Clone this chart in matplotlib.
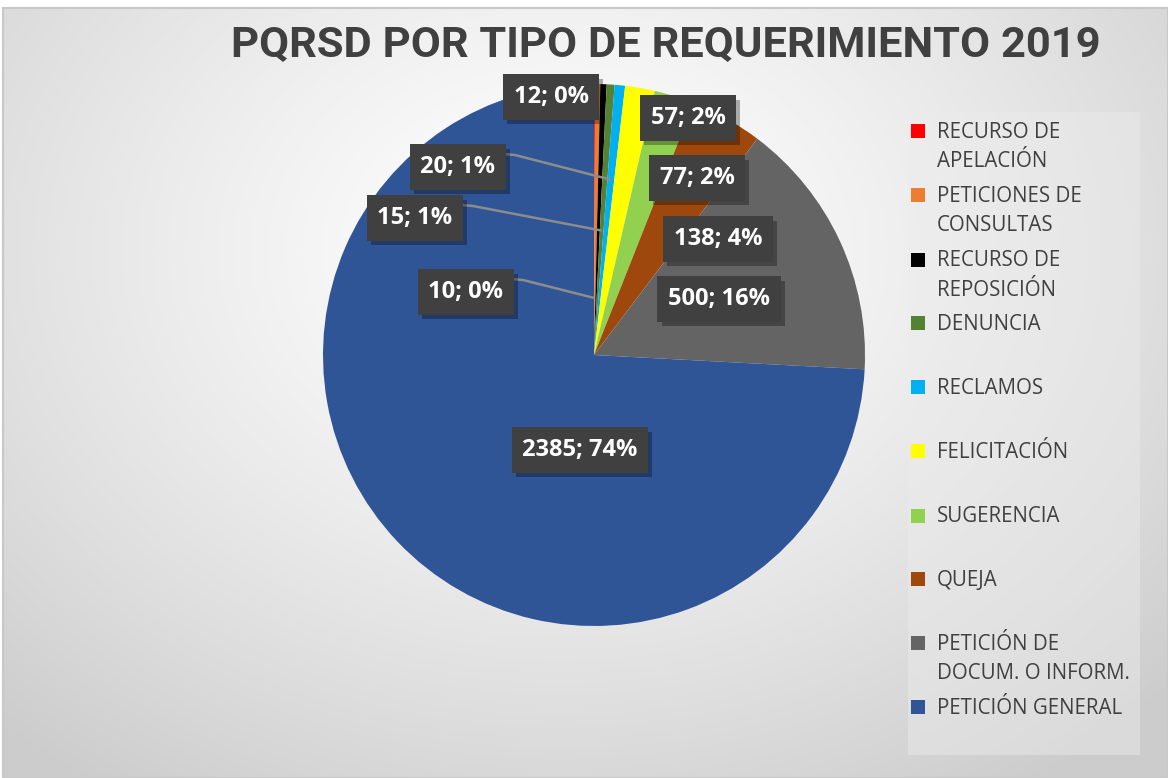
import matplotlib
matplotlib.use("Agg")
import matplotlib.pyplot as plt
import matplotlib.patheffects as pe
import numpy as np
from matplotlib.patches import Rectangle

# data (clockwise from 12 o'clock)
categorias = ["RECURSO DE\nAPELACIÓN", "PETICIONES DE\nCONSULTAS", "RECURSO DE\nREPOSICIÓN",
              "DENUNCIA", "RECLAMOS", "FELICITACIÓN", "SUGERENCIA", "QUEJA",
              "PETICIÓN DE\nDOCUM. O INFORM.", "PETICIÓN GENERAL"]
valores = [2, 10, 12, 15, 20, 57, 77, 138, 500, 2385]
etiquetas = ["", "10; 0%", "12; 0%", "15; 1%", "20; 1%", "57; 2%", "77; 2%",
             "138; 4%", "500; 16%", "2385; 74%"]
colores = ["#FF0000", "#ED7D31", "#000000", "#548235", "#00B0F0", "#FFFF00",
           "#92D050", "#9E480E", "#646464", "#2F5597"]

W, H = 1168, 778
fig = plt.figure(figsize=(W / 100, H / 100), dpi=100)

# background: soft radial gradient like the Excel chart area
bg = fig.add_axes([0, 0, 1, 1])
yy, xx = np.mgrid[0:H, 0:W]
d = np.sqrt(((xx - 560) / 900.0) ** 2 + ((yy - 250) / 700.0) ** 2)
g = np.clip(1.0 - 0.22 * d ** 1.3, 0.80, 1.0)
img = np.dstack([g, g, g])
img[:8, :, :] = 1.0
img[:, :3, :] = 1.0
bg.imshow(img, extent=[0, W, H, 0], aspect="auto", interpolation="bilinear")
bg.plot([3, W, W, 3, 3], [8, 8, H, H, 8], color="#c8c8c8", lw=1.5)
bg.set_xlim(0, W)
bg.set_ylim(H, 0)
bg.axis("off")

# legend panel
bg.add_patch(Rectangle((908, 112), 232, 643, facecolor="#ececec", edgecolor="none", alpha=0.45))

# pie
cx, cy, R = 594, 355, 271
ax = fig.add_axes([(cx - R) / W, (H - cy - R) / H, 2 * R / W, 2 * R / H])
wedges, _ = ax.pie(valores, colors=colores, startangle=90, counterclock=False,
                   radius=1, wedgeprops=dict(linewidth=0))
ax.set_xlim(-1, 1)
ax.set_ylim(-1, 1)
ax.set_aspect("equal")
ax.axis("off")

def px(x, y):
    return (x - cx) / R, (cy - y) / R

# label box centres (pixels), box half width, leader radius
pos = {
    "10; 0%": (466, 292, 46, 0.21),
    "12; 0%": (551, 97, 41, None),
    "15; 1%": (415, 218, 47, 0.46),
    "20; 1%": (458, 167, 46, 0.65),
    "57; 2%": (688, 118, 45, None),
    "77; 2%": (697, 178, 45, None),
    "138; 4%": (718, 239, 52, None),
    "500; 16%": (719, 299, 61, None),
    "2385; 74%": (580, 450, 65, None),
}

lab_font = dict(family=["Open Sans", "DejaVu Sans"], fontsize=17, fontweight="bold")
for w, lab in zip(wedges, etiquetas):
    if not lab:
        continue
    x, y, hw, rr = pos[lab]
    tx, ty = px(x, y)
    if rr is not None:
        ang = np.deg2rad((w.theta1 + w.theta2) / 2)
        ex, ey = rr * np.cos(ang), rr * np.sin(ang)
        sx, sy = px(x + hw, y - 13)
        kx, ky = px(x + hw + 11, y - 12)
        ax.plot([sx, kx, ex], [sy, ky, ey], color="#8c8c8c", lw=1.8, clip_on=False,
                solid_capstyle="butt")
    t = ax.text(tx, ty, lab, ha="center", va="center", color="white",
                bbox=dict(boxstyle="square,pad=0.45", facecolor="#404040", edgecolor="none"),
                clip_on=False, **lab_font)
    t.get_bbox_patch().set_path_effects(
        [pe.SimplePatchShadow(offset=(3, -3), shadow_rgbFace="black", alpha=0.3), pe.Normal()])

# legend drawn by hand to keep Excel's even spacing
leg_y = [131, 195, 260, 323, 387, 451, 516, 579, 643, 707]
for cat, col, y in zip(categorias, colores, leg_y):
    bg.add_patch(Rectangle((911, y - 7), 14, 14, facecolor=col, edgecolor="none"))
    for i, line in enumerate(cat.split("\n")):
        bg.text(937, y + 1 + i * 29.5, line, ha="left", va="center", color="#404040",
                family=["Open Sans", "DejaVu Sans"], fontsize=14.8)

fig.text(666 / W, 1 - 45 / H, "PQRSD POR TIPO DE REQUERIMIENTO 2019", ha="center", va="center",
         color="#404040", fontsize=31.3, fontweight="bold",
         family=["Roboto", "DejaVu Sans"])

fig.savefig("out.png", dpi=100)
